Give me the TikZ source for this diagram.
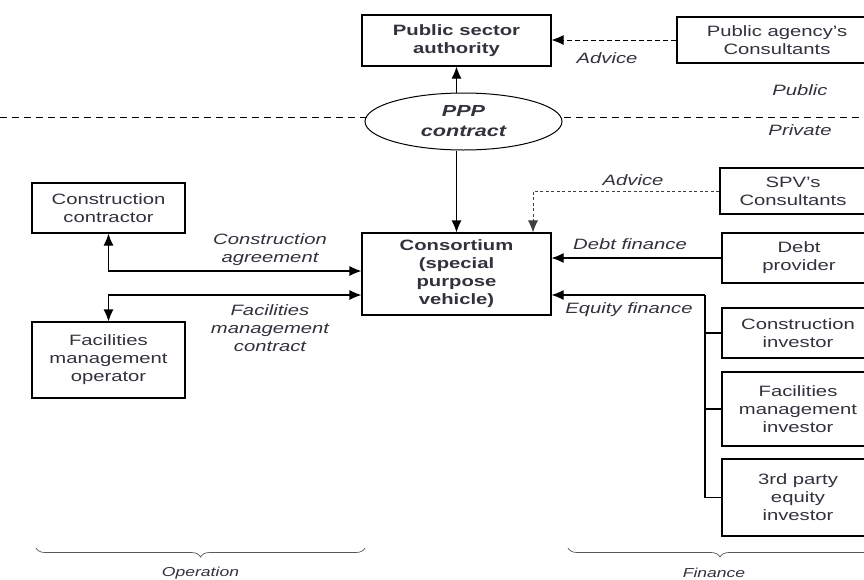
\documentclass[tikz,border=0pt]{standalone}
\usepackage{fontspec}
\setmainfont{Liberation Sans}[FakeStretch=1.35]
\usetikzlibrary{arrows.meta,shapes.geometric,decorations.pathreplacing}
\definecolor{textc}{RGB}{50,50,60}
\begin{document}
\begin{tikzpicture}[x=1pt,y=-1pt,
  box/.style={draw, line width=1.1pt, align=center, inner sep=0pt, text=textc,
    font=\fontsize{15}{18}\selectfont},
  lbl/.style={align=center, inner sep=0pt, text=textc, font=\fontsize{15}{18}\selectfont\itshape},
  tip/.tip={Latex[length=12pt,width=10pt]},
  arr/.style={line width=1.1pt, -tip},
  darr/.style={line width=1.1pt, tip-tip},
  brc/.style={draw=black!65, line width=0.7pt, decorate, decoration={brace, amplitude=9pt, mirror}}
]
\clip (0,0) rectangle (864,579);
\fill[white] (0,0) rectangle (864,579);

% dashed public/private divide
\coordinate (pl) at (0,117);
\coordinate (pr) at (864,117);
\draw[line width=0.9pt, dash pattern=on 7pt off 5pt] (pl) -- (pr);

% nodes
\node[box, font=\fontsize{15}{18}\selectfont\bfseries, minimum width=189pt, minimum height=51pt] (psa) at (456.5,40.5) {Public sector\\authority};
\node[box, minimum width=200pt, minimum height=46pt] (pac) at (777,40) {Public agency's\\Consultants};
\node[draw, ellipse, line width=1pt, fill=white, minimum width=197pt, minimum height=57pt, inner sep=0pt,
  align=center, text=textc, font=\fontsize{16}{20}\selectfont\bfseries\itshape] (ppp) at (463.5,121.5) {PPP\\contract};
\node[box, font=\fontsize{15}{18}\selectfont\bfseries, minimum width=189pt, minimum height=82pt] (cons) at (456.5,274) {Consortium\\(special\\purpose\\vehicle)};
\node[box, minimum width=153pt, minimum height=50pt] (cc) at (108.5,208) {Construction\\contractor};
\node[box, minimum width=153pt, minimum height=76pt] (fm) at (108.5,360) {Facilities\\management\\operator};
\node[box, minimum width=146pt, minimum height=46pt] (spv) at (793,191) {SPV's\\Consultants};
\node[box, minimum width=154pt, minimum height=50pt] (dp) at (799,258) {Debt\\provider};
\node[box, minimum width=152pt, minimum height=50pt] (ci) at (798,333) {Construction\\investor};
\node[box, minimum width=152pt, minimum height=74pt] (fi) at (798,409) {Facilities\\management\\investor};
\node[box, minimum width=152pt, minimum height=77pt] (tp) at (798,497.5) {3rd party\\equity\\investor};

% labels
\node[lbl] (l1) at (607,58) {Advice};
\node[lbl] (l2) at (800,90) {Public};
\node[lbl] (l3) at (800,130) {Private};
\node[lbl] (l4) at (633,180) {Advice};
\node[lbl] (l5) at (630,244) {Debt finance};
\node[lbl] (l6) at (629,310) {Equity finance};
\node[lbl] (l7) at (270,250) {Construction\\agreement};
\node[lbl] (l8) at (270,328) {Facilities\\management\\contract};

% connectors
\draw[line width=0.9pt, dash pattern=on 5pt off 3pt, -tip] (pac.west) -- (pac.west -| psa.east);
\draw[arr] (psa.south |- ppp.north) -- (psa.south);
\draw[arr] (cons.north |- ppp.south) -- (cons.north);

\coordinate (adv) at (533,0);
\draw[line width=0.8pt, draw=black!75, dash pattern=on 3pt off 2.5pt, -tip] (spv.west) -| (adv |- cons.north);
\draw[arr] (dp.west) -- (dp.west -| cons.east);

\coordinate (eq) at (705,295);
\draw[line width=1.1pt] (tp.west) -| (eq);
\draw[line width=1.1pt] (ci.west) -- (ci.west -| eq);
\draw[line width=1.1pt] (fi.west) -- (fi.west -| eq);
\draw[arr] (eq) -- (eq -| cons.east);

\coordinate (cay) at (0,271);
\coordinate (fmy) at (0,295);
\draw[darr] (cc.south) |- (cons.west |- cay);
\draw[darr] (fm.north) |- (cons.west |- fmy);

% braces
\coordinate (ob1) at (36,548);
\coordinate (ob2) at (365,548);
\coordinate (fb1) at (568,548);
\coordinate (fb2) at (872,548);
\draw[brc] (ob1) -- (ob2);
\draw[brc] (fb1) -- (fb2);
\node[text=textc, inner sep=0pt, font=\fontsize{13}{15}\selectfont\itshape] (op) at (200.5,573) {Operation};
\node[text=textc, inner sep=0pt, font=\fontsize{13}{15}\selectfont\itshape] (fin) at (714,573) {Finance};
\end{tikzpicture}
\end{document}
